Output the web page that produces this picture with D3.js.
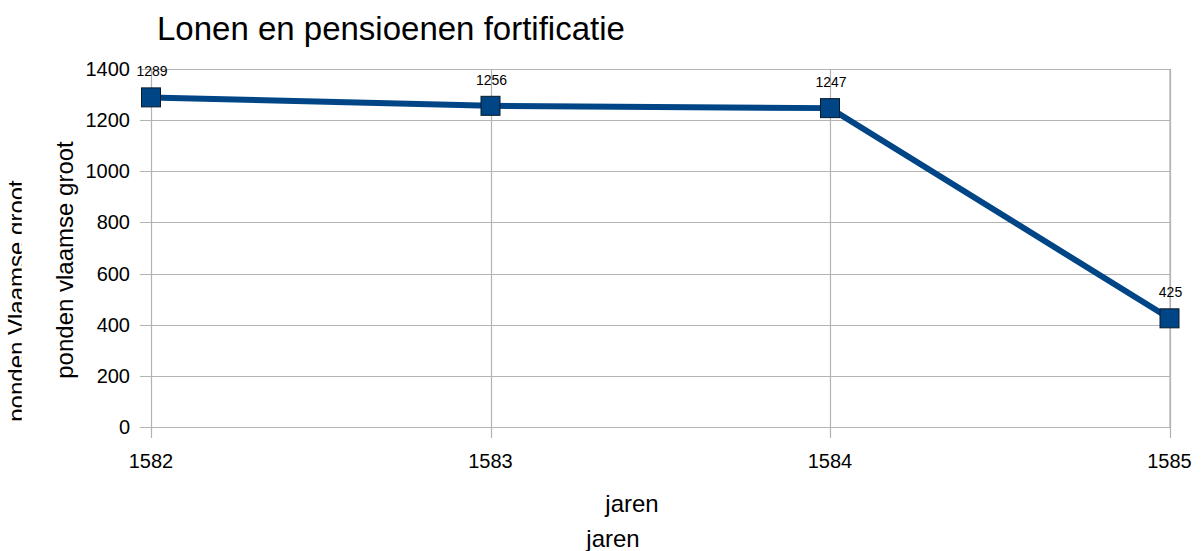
<html>
  <head>
    <script src="https://d3js.org/d3.v7.min.js"></script>
    <style>
      body { margin: 0; background: #fff; }
      text { font-family: "Liberation Sans", Arial, sans-serif; fill: #000; }
    </style>
  </head>
  <body>
    <script>
      // values
      var years = ["1582", "1583", "1584", "1585"];
      var amounts = [1289, 1256, 1247, 425];
      var yTicks = [0, 200, 400, 600, 800, 1000, 1200, 1400];

      var width = 1201, height = 551;
      var svg = d3.select("body").append("svg")
          .attr("width", width)
          .attr("height", height);

      var x = d3.scalePoint().domain(years).range([151, 1169.5]);
      var y = d3.scaleLinear().domain([0, 1400]).range([427, 69]);

      var grid = "#b3b3b3";

      // horizontal grid lines
      svg.append("g").selectAll("line")
          .data(yTicks)
          .enter().append("line")
          .attr("x1", 140).attr("x2", 1170)
          .attr("y1", function (d) { return Math.round(y(d)) + 0.5; })
          .attr("y2", function (d) { return Math.round(y(d)) + 0.5; })
          .attr("stroke", grid).attr("stroke-width", 1.2);

      // vertical grid lines per year
      svg.append("g").selectAll("line")
          .data(years)
          .enter().append("line")
          .attr("x1", function (d) { return Math.round(x(d)) + 0.5; })
          .attr("x2", function (d) { return Math.round(x(d)) + 0.5; })
          .attr("y1", 69).attr("y2", 438)
          .attr("stroke", grid).attr("stroke-width", 1.2);

      // right border
      svg.append("line")
          .attr("x1", 1170).attr("x2", 1170).attr("y1", 69).attr("y2", 427)
          .attr("stroke", grid).attr("stroke-width", 1.2);

      // y tick labels
      svg.append("g").selectAll("text")
          .data(yTicks)
          .enter().append("text")
          .attr("x", 130)
          .attr("y", function (d) { return y(d) + 7; })
          .attr("text-anchor", "end")
          .style("font-size", "20px")
          .text(function (d) { return d; });

      // x tick labels
      svg.append("g").selectAll("text")
          .data(years)
          .enter().append("text")
          .attr("x", function (d) { return x(d); })
          .attr("y", 468)
          .attr("text-anchor", "middle")
          .style("font-size", "20px")
          .text(function (d) { return d; });

      var pts = years.map(function (d, i) { return { year: d, v: amounts[i] }; });

      // the line
      svg.append("path")
          .datum(pts)
          .attr("fill", "none")
          .attr("stroke", "#004586")
          .attr("stroke-width", 6)
          .attr("d", d3.line()
              .x(function (d) { return x(d.year); })
              .y(function (d) { return y(d.v); }));

      // square markers
      svg.append("g").selectAll("rect")
          .data(pts)
          .enter().append("rect")
          .attr("x", function (d) { return x(d.year) - 9.5; })
          .attr("y", function (d) { return y(d.v) - 9.5; })
          .attr("width", 19).attr("height", 19)
          .attr("fill", "#004586")
          .attr("stroke", "#0a1a2a")
          .attr("stroke-width", 1);

      // value labels
      svg.append("g").selectAll("text")
          .data(pts)
          .enter().append("text")
          .attr("x", function (d) { return x(d.year) + 1; })
          .attr("y", function (d) { return y(d.v) - 21; })
          .attr("text-anchor", "middle")
          .style("font-size", "14px")
          .text(function (d) { return d.v; });

      // title
      svg.append("text")
          .attr("x", 157).attr("y", 40)
          .style("font-size", "33px")
          .text("Lonen en pensioenen fortificatie");

      // axis titles
      svg.append("text")
          .attr("transform", "translate(73,260) rotate(-90)")
          .attr("text-anchor", "middle")
          .style("font-size", "24px")
          .text("ponden vlaamse groot");

      svg.append("clipPath").attr("id", "leftclip")
          .append("rect").attr("x", 0).attr("y", 0).attr("width", 21.7).attr("height", height);

      svg.append("g").attr("clip-path", "url(#leftclip)")
          .append("text")
          .attr("transform", "translate(25,301) rotate(-90)")
          .attr("text-anchor", "middle")
          .style("font-size", "24px")
          .text("ponden Vlaamse groot");

      svg.append("text")
          .attr("x", 632).attr("y", 512)
          .attr("text-anchor", "middle")
          .style("font-size", "24px")
          .text("jaren");

      svg.append("text")
          .attr("x", 613).attr("y", 547)
          .attr("text-anchor", "middle")
          .style("font-size", "24px")
          .text("jaren");
    </script>
  </body>
</html>
